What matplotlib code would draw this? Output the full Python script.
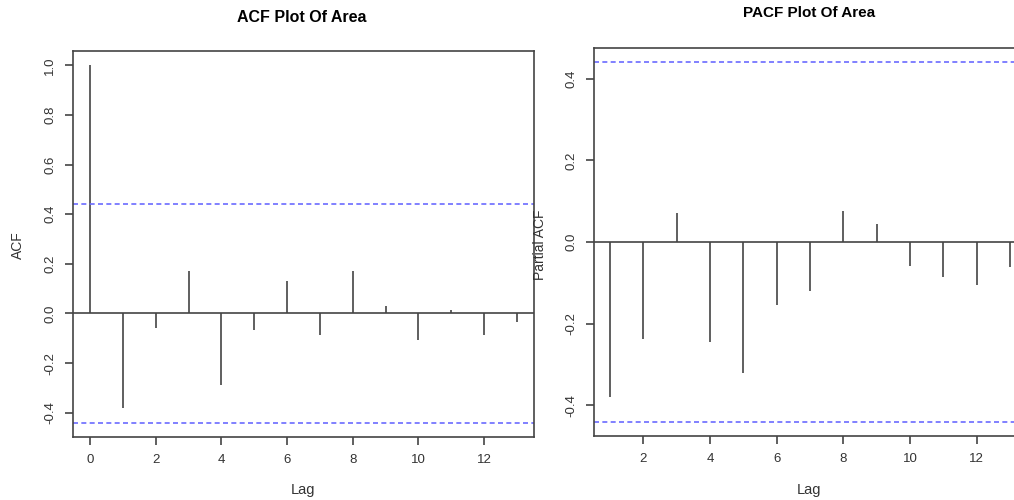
import matplotlib
matplotlib.use("Agg")
import matplotlib.pyplot as plt
import numpy as np

# values
acf_lags = np.arange(0, 14)
acf_vals = [1.0, -0.38, -0.06, 0.17, -0.29, -0.065, 0.13, -0.085, 0.17, 0.03, -0.105, 0.016, -0.085, -0.036]
pacf_lags = np.arange(1, 14)
pacf_vals = [-0.38, -0.237, 0.07, -0.244, -0.322, -0.154, -0.12, 0.076, 0.044, -0.059, -0.085, -0.105, -0.061]
conf = 0.44

plt.rcParams['font.family'] = ['Liberation Sans', 'DejaVu Sans']
plt.rcParams['axes.unicode_minus'] = False

W, H = 1014, 500
fig = plt.figure(figsize=(W / 100, H / 100), dpi=100)

def px(x0, y0, x1, y1):
    return [x0 / W, 1 - y1 / H, (x1 - x0) / W, (y1 - y0) / H]

axc = '#444444'
blue = '#6b6bff'

def style(ax, yticks, xticks):
    for s in ax.spines.values():
        s.set_color(axc)
        s.set_linewidth(1.2)
    ax.tick_params(colors=axc, labelcolor='#333333', labelsize=9.5, length=6, width=1.2, pad=6)
    ax.set_yticks(yticks)
    ax.set_yticklabels(['%.1f' % v for v in yticks], rotation=90, va='center')
    ax.set_xticks(xticks)

# ACF panel
ax1 = fig.add_axes(px(73, 51, 534, 437))
ax1.vlines(acf_lags, 0, acf_vals, color=axc, lw=1.2)
ax1.axhline(0, color=axc, lw=1.2)
for c in (conf, -conf):
    ax1.axhline(c, color=blue, lw=1.2, ls=(0, (3, 2)))
ax1.set_xlim(-0.52, 13.52)
ax1.set_ylim(-0.4976, 1.0576)
style(ax1, [-0.4, -0.2, 0.0, 0.2, 0.4, 0.6, 0.8, 1.0], range(0, 14, 2))

# PACF panel (right side runs past the picture edge)
ax2 = fig.add_axes(px(594, 48, 1026, 436))
ax2.vlines(pacf_lags, 0, pacf_vals, color=axc, lw=1.2)
ax2.axhline(0, color=axc, lw=1.2)
for c in (conf, -conf):
    ax2.axhline(c, color=blue, lw=1.2, ls=(0, (3, 2)))
ax2.set_xlim(0.52, 13.48)
ax2.set_ylim(-0.4752, 0.4752)
style(ax2, [-0.4, -0.2, 0.0, 0.2, 0.4], range(2, 14, 2))

# titles and axis labels
fig.text(302 / W, 1 - 17 / H, 'ACF Plot Of Area', ha='center', va='center', fontsize=11.5, fontweight='bold')
fig.text(809 / W, 1 - 13 / H, 'PACF Plot Of Area', ha='center', va='center', fontsize=11, fontweight='bold')
fig.text(303 / W, 1 - 490 / H, 'Lag', ha='center', va='center', fontsize=10.5, color='#333333')
fig.text(809 / W, 1 - 490 / H, 'Lag', ha='center', va='center', fontsize=10.5, color='#333333')
fig.text(18 / W, 1 - 245 / H, 'ACF', ha='center', va='center', rotation=90, fontsize=10, color='#333333')
fig.text(540 / W, 1 - 245 / H, 'Partial ACF', ha='center', va='center', rotation=90, fontsize=10, color='#333333')

fig.savefig('out.png', dpi=100)
